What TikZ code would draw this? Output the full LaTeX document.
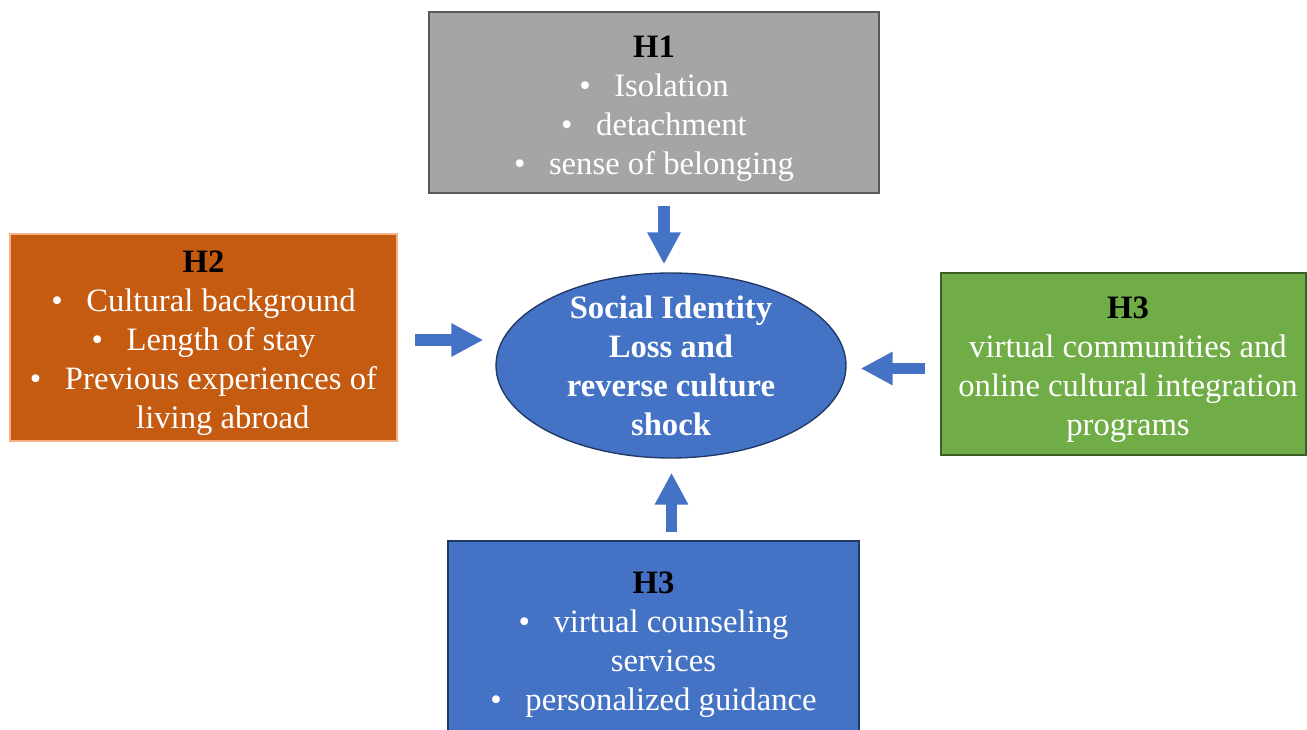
\documentclass[tikz,border=0pt]{standalone}
\usepackage{fontspec}
\setmainfont{Liberation Serif}
\usetikzlibrary{arrows.meta,shapes.geometric,calc}
\definecolor{boxgray}{HTML}{A5A5A5}
\definecolor{graybord}{HTML}{595959}
\definecolor{boxorange}{HTML}{C55A11}
\definecolor{orangebord}{HTML}{F4B183}
\definecolor{boxgreen}{HTML}{70AD47}
\definecolor{greenbord}{HTML}{3A5F27}
\definecolor{boxblue}{HTML}{4472C4}
\definecolor{bluebord}{HTML}{1F3864}
\tikzset{
  hbox/.style={rectangle, inner sep=0pt, line width=1pt},
  htext/.style={inner sep=0pt, align=center, text=white,
    font=\fontsize{24.5}{29.3}\selectfont},
  blockarrow/.style={draw=boxblue, line width=8.6pt,
    -{Triangle[width=23.5pt,length=24pt]}}
}
\newcommand{\hh}[1]{{\bfseries\color{black}#1}}
\newcommand{\bl}{\textbullet\hspace{17.7pt}}
\begin{document}
\begin{tikzpicture}[x=0.75pt,y=-0.75pt]
\clip (0,0) rectangle (1307,730);
\fill[white] (0,0) rectangle (1307,730);

\node[hbox, fill=boxgray, draw=graybord, minimum width=337.5pt, minimum height=135.75pt] (h1) at (654,102.5) {};
\node[htext] (h1t) at ($(h1.center)+(0,6)$)
  {\hh{H1}\\ \bl Isolation\\ \bl detachment\\ \bl sense of belonging};

\node[hbox, fill=boxorange, draw=orangebord, minimum width=290.25pt, minimum height=155.25pt] (h2) at (203.5,337.5) {};
\node[htext] (h2t) at ($(h2.center)+(0,5.5)$)
  {\hh{H2}\\ \bl Cultural background\\ \bl Length of stay\\ \bl Previous experiences of\\ \hspace*{29pt}living abroad};

\node[hbox, fill=boxgreen, draw=greenbord, minimum width=273.75pt, minimum height=136.5pt] (h3g) at (1123.5,364) {};
\node[htext] (h3gt) at ($(h3g.center)+(4.5,6)$)
  {\hh{H3}\\ virtual communities and\\ online cultural integration\\ programs};

\node[hbox, fill=boxblue, draw=bluebord, minimum width=308.25pt, minimum height=148.5pt] (h3b) at (653.5,640) {};
\node[htext] (h3bt) at ($(h3b.center)+(0,4.5)$)
  {\hh{H3}\\ \bl virtual counseling\\ \hspace*{15pt}services\\ \bl personalized guidance};

\node[ellipse, fill=boxblue, draw=bluebord, line width=1pt, inner sep=0pt,
  minimum width=262.5pt, minimum height=138.75pt] (ell) at (671,365.5) {};
\node[htext, font=\fontsize{24.5}{29.3}\selectfont\bfseries] (ellt) at (ell.center)
  {Social Identity\\ Loss and\\ reverse culture\\ shock};

\draw[blockarrow] ($(h1.south)+(10,12)$) -- ($(ell.north)+(-7,-8)$);
\draw[blockarrow] ($(h2.east)+(17,2.5)$) -- ($(ell.west)+(-12,-25.5)$);
\draw[blockarrow] ($(h3g.west)+(-15,4.5)$) -- ($(ell.east)+(14,3)$);
\draw[blockarrow] ($(h3b.north)+(18,-8)$) -- ($(ell.south)+(0.5,14)$);
\end{tikzpicture}
\end{document}
